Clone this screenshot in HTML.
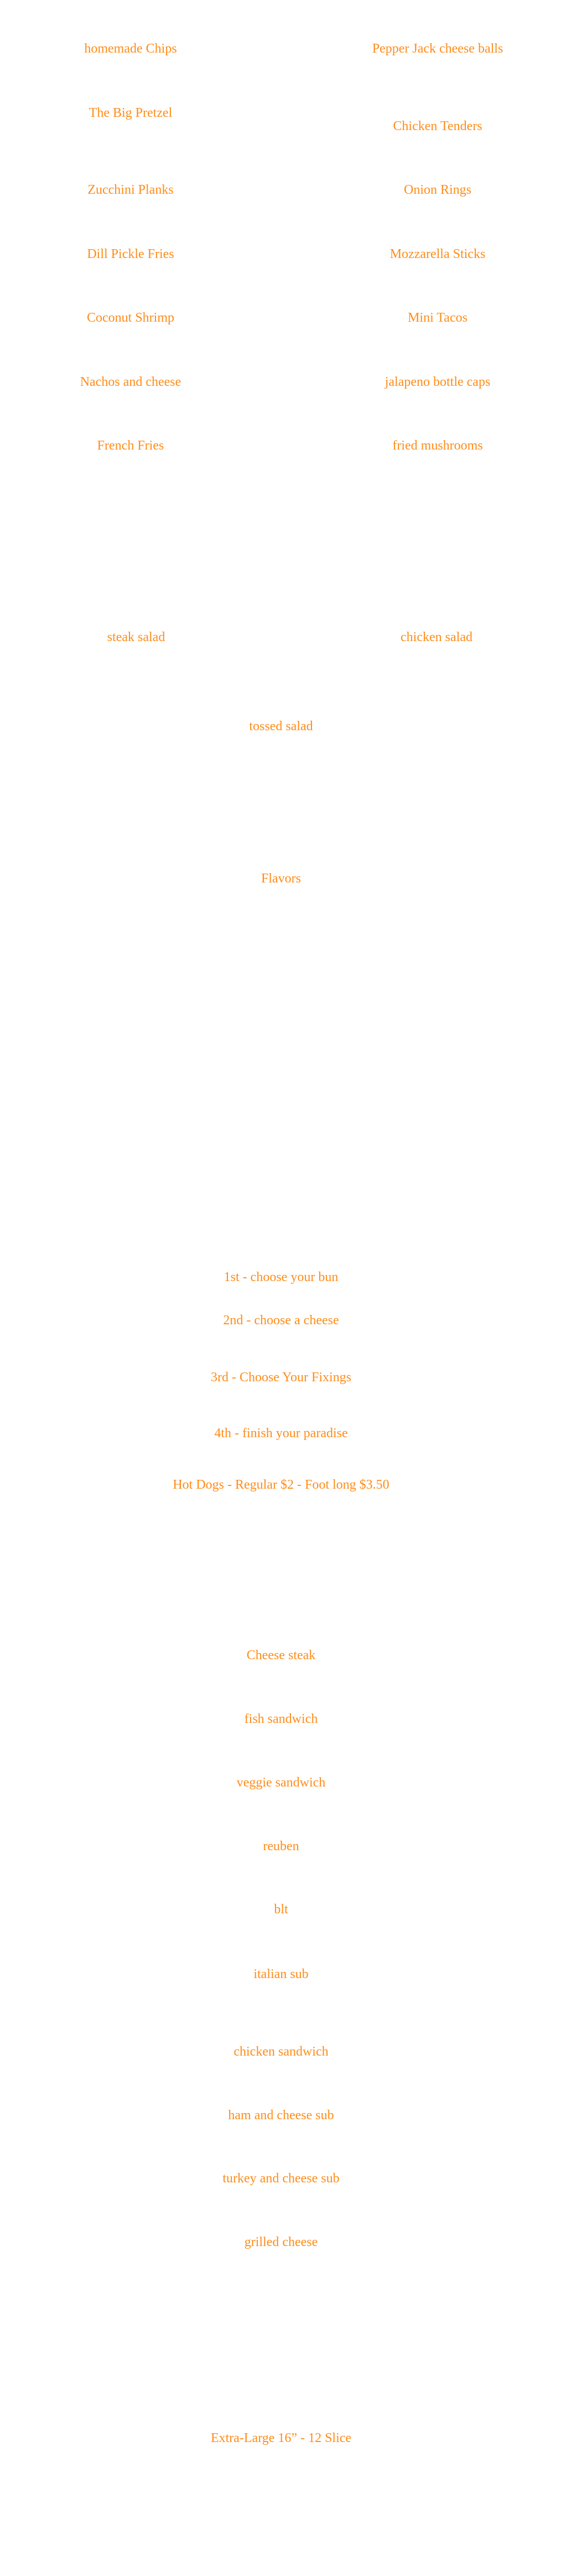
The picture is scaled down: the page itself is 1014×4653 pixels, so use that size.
<!DOCTYPE html>
<html><head><meta charset="utf-8"><style>
html,body{margin:0;padding:0;background:#fff;}
body{width:1014px;height:4653px;position:relative;overflow:hidden;font-family:"Liberation Serif",serif;}
.t{position:absolute;font-size:24px;line-height:28px;color:#ff8c1a;white-space:nowrap;transform:translateX(-50%);}
</style></head><body>
<div class="t" style="left:236px;top:74px">homemade Chips</div>
<div class="t" style="left:791px;top:74px">Pepper Jack cheese balls</div>
<div class="t" style="left:236px;top:190px">The Big Pretzel</div>
<div class="t" style="left:791px;top:214px">Chicken Tenders</div>
<div class="t" style="left:236px;top:329px">Zucchini Planks</div>
<div class="t" style="left:791px;top:329px">Onion Rings</div>
<div class="t" style="left:236px;top:445px">Dill Pickle Fries</div>
<div class="t" style="left:791px;top:445px">Mozzarella Sticks</div>
<div class="t" style="left:236px;top:560px">Coconut Shrimp</div>
<div class="t" style="left:791px;top:560px">Mini Tacos</div>
<div class="t" style="left:236px;top:676px">Nachos and cheese</div>
<div class="t" style="left:791px;top:676px">jalapeno bottle caps</div>
<div class="t" style="left:236px;top:791px">French Fries</div>
<div class="t" style="left:791px;top:791px">fried mushrooms</div>

<div class="t" style="left:246px;top:1137px">steak salad</div>
<div class="t" style="left:789px;top:1137px">chicken salad</div>
<div class="t" style="left:508px;top:1298px">tossed salad</div>
<div class="t" style="left:508px;top:1573px">Flavors</div>

<div class="t" style="left:508px;top:2293px">1st - choose your bun</div>
<div class="t" style="left:508px;top:2371px">2nd - choose a cheese</div>
<div class="t" style="left:508px;top:2474px">3rd - Choose Your Fixings</div>
<div class="t" style="left:508px;top:2575px">4th - finish your paradise</div>
<div class="t" style="left:508px;top:2668px">Hot Dogs - Regular $2 - Foot long $3.50</div>

<div class="t" style="left:508px;top:2976px">Cheese steak</div>
<div class="t" style="left:508px;top:3091px">fish sandwich</div>
<div class="t" style="left:508px;top:3206px">veggie sandwich</div>
<div class="t" style="left:508px;top:3321px">reuben</div>
<div class="t" style="left:508px;top:3435px">blt</div>
<div class="t" style="left:508px;top:3552px">italian sub</div>
<div class="t" style="left:508px;top:3692px">chicken sandwich</div>
<div class="t" style="left:508px;top:3807px">ham and cheese sub</div>
<div class="t" style="left:508px;top:3921px">turkey and cheese sub</div>
<div class="t" style="left:508px;top:4036px">grilled cheese</div>

<div class="t" style="left:508px;top:4390px">Extra-Large 16” - 12 Slice</div>
</body></html>
